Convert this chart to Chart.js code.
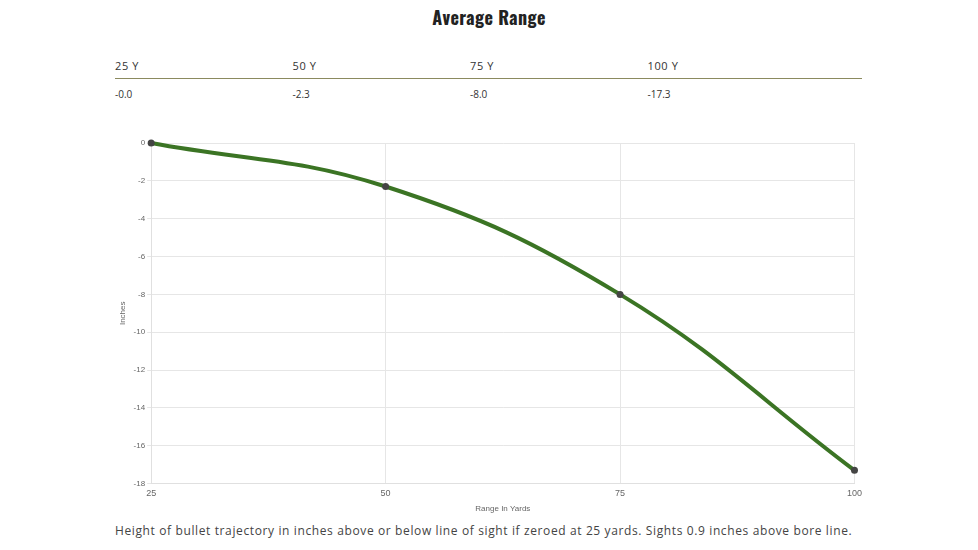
<!DOCTYPE html>
<html>
<head>
<meta charset="utf-8">
<script src="https://cdn.jsdelivr.net/npm/chart.js@4"></script>
<style>
  body { margin: 0; background: #fff; width: 978px; height: 550px; position: relative; overflow: hidden; font-family: "Open Sans", sans-serif; }
  h2 { position: absolute; top: 4px; left: 0; width: 978px; margin: 0; text-align: center; font-family: Oswald, "Liberation Sans Narrow", "DejaVu Sans Condensed", sans-serif; font-weight: bold; font-size: 18px; color: #222; letter-spacing: 0.4px; }
  #tbl { position: absolute; left: 115px; top: 57px; width: 747px; font-size: 11px; color: #333; }
  #tbl .row { display: flex; }
  #tbl .row div { width: 177.5px; }
  #tbl .head { height: 21px; border-bottom: 1px solid #8b8a5f; line-height: 18px; letter-spacing: 0.6px; }
  #tbl .vals { line-height: 30px; font-size: 10px; }
  #wrap { position: absolute; left: 107px; top: 135px; width: 760px; height: 379px; }
  #note { position: absolute; left: 115px; top: 522px; font-size: 12px; color: #444; letter-spacing: 0.62px; }
</style>
</head>
<body>
<h2>Average Range</h2>
<div id="tbl">
  <div class="row head" id="head"></div>
  <div class="row vals" id="vals"></div>
</div>
<div id="wrap"><canvas id="chart"></canvas></div>
<div id="note">Height of bullet trajectory in inches above or below line of sight if zeroed at 25 yards. Sights 0.9 inches above bore line.</div>
<script>
const ranges = [25, 50, 75, 100];
const rangeHeaders = ["25 Y", "50 Y", "75 Y", "100 Y"];
const dropValues = [-0.0, -2.3, -8.0, -17.3];
const dropText = ["-0.0", "-2.3", "-8.0", "-17.3"];

const head = document.getElementById("head");
const vals = document.getElementById("vals");
rangeHeaders.forEach((h, i) => {
  const a = document.createElement("div");
  a.textContent = h;
  head.appendChild(a);
  const b = document.createElement("div");
  b.textContent = dropText[i];
  vals.appendChild(b);
});

new Chart(document.getElementById("chart"), {
  type: "line",
  data: {
    labels: ranges,
    datasets: [{
      data: dropValues,
      borderColor: "#3b7424",
      borderWidth: 4,
      tension: 0.4,
      clip: false,
      pointRadius: 3.5,
      pointBorderWidth: 0,
      pointBackgroundColor: "#444",
      pointBorderColor: "#444",
      fill: false
    }]
  },
  options: {
    responsive: true,
    maintainAspectRatio: false,
    animation: false,
    plugins: { legend: { display: false }, tooltip: { enabled: false } },
    layout: { padding: { top: 8, right: 8, left: 7 } },
    scales: {
      x: {
        offset: false,
        grid: { color: "#e6e6e6", drawTicks: false },
        border: { color: "#e0e0e0" },
        ticks: { color: "#666", font: { size: 9 }, padding: 5 },
        title: { display: true, text: "Range In Yards", color: "#666", font: { size: 8 }, padding: { top: 0, bottom: 0 } }
      },
      y: {
        min: -18,
        max: 0,
        grid: { color: "#e6e6e6", drawTicks: true, tickLength: 4 },
        border: { color: "#e0e0e0" },
        ticks: { stepSize: 2, color: "#666", font: { size: 8 }, padding: 2 },
        title: { display: true, text: "Inches", color: "#666", font: { size: 8 }, padding: { top: 4, bottom: 4 } }
      }
    }
  }
});
</script>
</body>
</html>
